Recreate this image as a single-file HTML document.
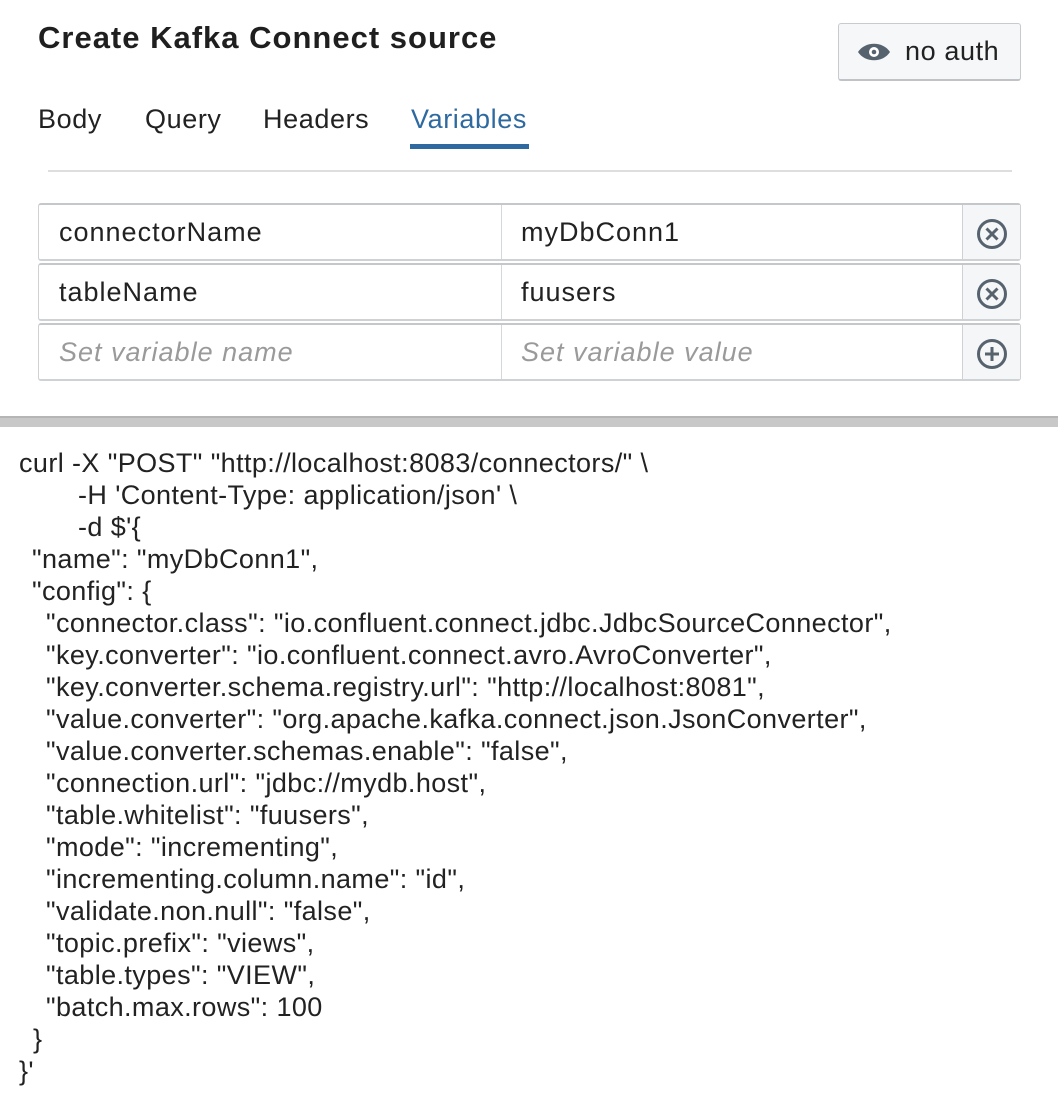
<!DOCTYPE html>
<html><head><meta charset="utf-8"><style>
*{box-sizing:border-box;margin:0;padding:0}
body{width:1058px;height:1096px;background:#fff;position:relative;overflow:hidden;font-family:"Liberation Sans",Arial,sans-serif;color:#222}
.a{position:absolute;white-space:pre}
.title{left:38px;top:20px;font-size:31px;font-weight:bold;color:#1f1f1f;letter-spacing:1px}
.btn{left:838px;top:23px;width:183px;height:58px;border:1px solid #c8cbce;border-bottom:2px solid #bfc3c7;border-radius:3px;background:#f5f7f8}
.tab{top:104px;font-size:27px;color:#222;letter-spacing:0.6px}
.row{left:38px;width:983px;height:58px;border:1px solid #cfd2d5;border-top:2px solid #c5c8cb;border-bottom:2px solid #cfd2d5;border-radius:3px;background:#fff}
.sep{position:absolute;left:462px;top:0;width:1px;height:100%;background:#d5d8db}
.ic{position:absolute;right:0;top:0;width:58px;height:100%;background:#f4f6f7;border-left:1px solid #cfd2d5}
.t{position:absolute;top:12px;font-size:27px;color:#222;letter-spacing:1px}
.ph{color:#9a9a9a;font-style:italic}
.c{left:19px;font-size:27px;color:#222;letter-spacing:0.4px}
</style></head><body>
<div class="a title">Create Kafka Connect source</div>
<div class="a btn">
<svg style="position:absolute;left:18px;top:17px" width="34" height="22" viewBox="0 0 34 22"><path d="M1 11 C8 0 26 0 33 11 C26 22 8 22 1 11Z" fill="#56636e"/><circle cx="17" cy="11" r="5" fill="#fff"/><circle cx="17" cy="11" r="2.3" fill="#56636e"/></svg>
<span style="position:absolute;left:66px;top:12px;font-size:27px;color:#222;letter-spacing:0.6px">no auth</span></div>
<div class="a tab" style="left:38px">Body</div>
<div class="a tab" style="left:145px">Query</div>
<div class="a tab" style="left:263px">Headers</div>
<div class="a tab" style="left:411px;color:#2e6aa0">Variables</div>
<div class="a" style="left:410px;top:144px;width:119px;height:5px;background:#2e6aa0"></div>
<div class="a" style="left:48px;top:170px;width:964px;height:2px;background:#dedede"></div>

<div class="a row" style="top:203px"><div class="sep"></div><div class="t" style="left:20px">connectorName</div><div class="t" style="left:482px">myDbConn1</div>
<div class="ic"><svg style="position:absolute;left:13px;top:13px" width="32" height="32" viewBox="0 0 32 32"><circle cx="16" cy="16" r="13.5" fill="none" stroke="#56636e" stroke-width="3"/><path d="M10.5 10.5L21.5 21.5M21.5 10.5L10.5 21.5" stroke="#56636e" stroke-width="3"/></svg></div></div>
<div class="a row" style="top:263px"><div class="sep"></div><div class="t" style="left:20px">tableName</div><div class="t" style="left:482px">fuusers</div>
<div class="ic"><svg style="position:absolute;left:13px;top:13px" width="32" height="32" viewBox="0 0 32 32"><circle cx="16" cy="16" r="13.5" fill="none" stroke="#56636e" stroke-width="3"/><path d="M10.5 10.5L21.5 21.5M21.5 10.5L10.5 21.5" stroke="#56636e" stroke-width="3"/></svg></div></div>
<div class="a row" style="top:323px"><div class="sep"></div><div class="t ph" style="left:20px">Set variable name</div><div class="t ph" style="left:482px">Set variable value</div>
<div class="ic"><svg style="position:absolute;left:13px;top:13px" width="32" height="32" viewBox="0 0 32 32"><circle cx="16" cy="16" r="13.5" fill="none" stroke="#56636e" stroke-width="3"/><path d="M16 9V23M9 16H23" stroke="#56636e" stroke-width="3"/></svg></div></div>

<div class="a" style="left:0;top:416px;width:1058px;height:11px;background:#c8c8c8;border-top:2px solid #b5b5b5"></div>

<div class="a c" style="top:448px">curl -X "POST" "http://localhost:8083/connectors/" \</div>
<div class="a c" style="top:480px;left:78px">-H 'Content-Type: application/json' \</div>
<div class="a c" style="top:512px;left:78px">-d $'{</div>
<div class="a c" style="top:544px;left:32px">"name": "myDbConn1",</div>
<div class="a c" style="top:576px;left:32px">"config": {</div>
<div class="a c" style="top:608px;left:46px">"connector.class": "io.confluent.connect.jdbc.JdbcSourceConnector",</div>
<div class="a c" style="top:640px;left:46px">"key.converter": "io.confluent.connect.avro.AvroConverter",</div>
<div class="a c" style="top:672px;left:46px">"key.converter.schema.registry.url": "http://localhost:8081",</div>
<div class="a c" style="top:704px;left:46px">"value.converter": "org.apache.kafka.connect.json.JsonConverter",</div>
<div class="a c" style="top:736px;left:46px">"value.converter.schemas.enable": "false",</div>
<div class="a c" style="top:768px;left:46px">"connection.url": "jdbc://mydb.host",</div>
<div class="a c" style="top:800px;left:46px">"table.whitelist": "fuusers",</div>
<div class="a c" style="top:832px;left:46px">"mode": "incrementing",</div>
<div class="a c" style="top:864px;left:46px">"incrementing.column.name": "id",</div>
<div class="a c" style="top:896px;left:46px">"validate.non.null": "false",</div>
<div class="a c" style="top:928px;left:46px">"topic.prefix": "views",</div>
<div class="a c" style="top:960px;left:46px">"table.types": "VIEW",</div>
<div class="a c" style="top:992px;left:46px">"batch.max.rows": 100</div>
<div class="a c" style="top:1024px;left:33px">}</div>
<div class="a c" style="top:1056px;left:19px">}'</div>
</body></html>
